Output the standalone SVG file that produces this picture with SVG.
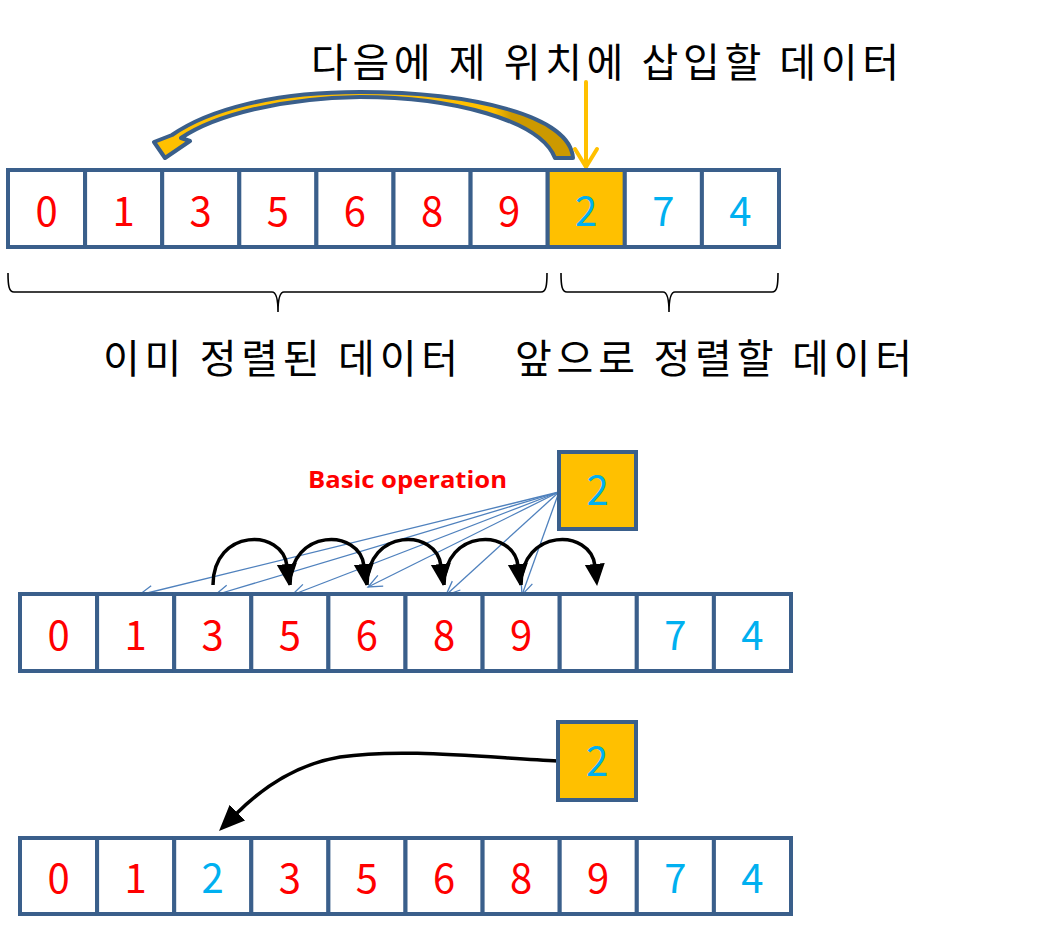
<svg xmlns="http://www.w3.org/2000/svg" width="1040" height="935" viewBox="0 0 1040 935">
<style>
.cell{fill:#FFFFFF;stroke:#3A5F8B;stroke-width:4}
.hl{fill:#FFC000;stroke:#3A5F8B;stroke-width:4}
.d{font-family:"Noto Sans CJK KR","Noto Sans",sans-serif;font-size:40px;text-anchor:middle}
.r{fill:#FF0000}
.b{fill:#00B0F0}
.k{font-family:"Noto Sans CJK KR","Noto Sans",sans-serif;font-size:40px;fill:#000000}
.brace{fill:none;stroke:#000000;stroke-width:1.6}
.thin{fill:none;stroke:#4F81BD;stroke-width:1.3;marker-end:url(#openv)}
.hop{fill:none;stroke:#000000;stroke-width:3.5;marker-end:url(#solid)}
</style>
<defs>
<marker id="openv" markerUnits="userSpaceOnUse" markerWidth="18" markerHeight="16" refX="15" refY="7" orient="auto" viewBox="0 0 18 14">
<path d="M1,1 L15,7 L1,13" fill="none" stroke="#4F81BD" stroke-width="1.3"/>
</marker>
<marker id="solid" markerUnits="userSpaceOnUse" markerWidth="24" markerHeight="22" refX="2" refY="10" orient="auto" viewBox="0 0 24 20">
<path d="M0,0 L22,10 L0,20 Z" fill="#000000"/>
</marker>
<marker id="solid2" markerUnits="userSpaceOnUse" markerWidth="28" markerHeight="24" refX="2" refY="11" orient="auto" viewBox="0 0 28 22">
<path d="M0,0 L26,11 L0,22 Z" fill="#000000"/>
</marker>
<linearGradient id="arcfill" gradientUnits="userSpaceOnUse" x1="150" y1="0" x2="580" y2="0">
<stop offset="0" stop-color="#FFC000"/>
<stop offset="0.8" stop-color="#FFC000"/>
<stop offset="0.84" stop-color="#CC9900"/>
<stop offset="1" stop-color="#CC9900"/>
</linearGradient>
</defs>

<g id="title"><text class="k" x="311" y="77" textLength="588" lengthAdjust="spacing">다음에 제 위치에 삽입할 데이터</text></g>

<g id="connectors">
<path id="bigarc" d="M573,158 C570,115 470,92 360,92 C272,92 208,110 172,135 L154,142 L165,158 L190,141 L181,138 C215,115 282,98 360,97 C452,97 540,120 555,158 Z" fill="url(#arcfill)" stroke="#3A5F8B" stroke-width="4" stroke-linejoin="round"/>
<g id="downarrow" stroke="#FFC000" stroke-width="4" fill="none" stroke-linecap="round">
<line x1="586" y1="82" x2="586" y2="166"/>
<polyline points="575,149 586,167 597,149"/>
</g>
<path class="thin" d="M559,492 L139,595"/>
<path class="thin" d="M559,492 L215,595"/>
<path class="thin" d="M559,492 L292,595"/>
<path class="thin" d="M559,492 L368,587"/>
<path class="thin" d="M559,492 L446,595"/>
<path class="thin" d="M559,492 L522,595"/>
<path class="hop" d="M213,585 C213,528 283,528 287,566"/>
<path class="hop" d="M290,585 C290,528 360,528 364,566"/>
<path class="hop" d="M367,585 C367,528 437,528 441,566"/>
<path class="hop" d="M444,585 C444,528 514,528 518,566"/>
<path class="hop" d="M521,585 C521,528 591,528 595,566"/>
<path d="M558,761 C480,757 400,748 340,757 C292,765 258,792 236,814" fill="none" stroke="#000000" stroke-width="3.5" marker-end="url(#solid2)"/>
</g>

<g id="braces">
<path class="brace" d="M8,273 C8,286 9,292 14,292 L272,292 C276,292 278,298 278,312 C278,298 280,292 284,292 L541,292 C546,292 547,286 547,273"/>
<path class="brace" d="M561,273 C561,286 562,292 567,292 L663,292 C667,292 669,298 669,312 C669,298 671,292 675,292 L772,292 C777,292 778,286 778,273"/>
</g>
<g id="label-sorted"><text class="k" x="103" y="373" textLength="355" lengthAdjust="spacing">이미 정렬된 데이터</text></g>
<g id="label-unsorted"><text class="k" x="515" y="373" textLength="397" lengthAdjust="spacing">앞으로 정렬할 데이터</text></g>

<!-- top row -->
<g id="t0"><rect class="cell" x="8" y="170" width="77.1" height="77"/><text class="d r" x="46.5" y="226">0</text></g>
<g id="t1"><rect class="cell" x="85.1" y="170" width="77.1" height="77"/><text class="d r" x="123.6" y="226">1</text></g>
<g id="t2"><rect class="cell" x="162.2" y="170" width="77.1" height="77"/><text class="d r" x="200.7" y="226">3</text></g>
<g id="t3"><rect class="cell" x="239.3" y="170" width="77.1" height="77"/><text class="d r" x="277.8" y="226">5</text></g>
<g id="t4"><rect class="cell" x="316.4" y="170" width="77.1" height="77"/><text class="d r" x="354.9" y="226">6</text></g>
<g id="t5"><rect class="cell" x="393.5" y="170" width="77.1" height="77"/><text class="d r" x="432" y="226">8</text></g>
<g id="t6"><rect class="cell" x="470.6" y="170" width="77.1" height="77"/><text class="d r" x="509.1" y="226">9</text></g>
<g id="t7"><rect class="hl" x="547.7" y="170" width="77.1" height="77"/><text class="d b" x="586.2" y="226">2</text></g>
<g id="t8"><rect class="cell" x="624.8" y="170" width="77.1" height="77"/><text class="d b" x="663.3" y="226">7</text></g>
<g id="t9"><rect class="cell" x="701.9" y="170" width="77.1" height="77"/><text class="d b" x="740.4" y="226">4</text></g>

<!-- middle -->
<g id="basic-op"><text x="308" y="488" font-family="'Open Sans','Noto Sans',sans-serif" font-size="24" font-weight="bold" fill="#FF0000" textLength="199" lengthAdjust="spacingAndGlyphs">Basic operation</text></g>
<g id="m-key"><rect class="hl" x="559" y="452" width="77" height="77"/><text class="d b" x="597.5" y="505">2</text></g>
<g id="m0"><rect class="cell" x="20" y="594" width="77.1" height="77"/><text class="d r" x="58.5" y="650">0</text></g>
<g id="m1"><rect class="cell" x="97.1" y="594" width="77.1" height="77"/><text class="d r" x="135.6" y="650">1</text></g>
<g id="m2"><rect class="cell" x="174.2" y="594" width="77.1" height="77"/><text class="d r" x="212.7" y="650">3</text></g>
<g id="m3"><rect class="cell" x="251.3" y="594" width="77.1" height="77"/><text class="d r" x="289.8" y="650">5</text></g>
<g id="m4"><rect class="cell" x="328.4" y="594" width="77.1" height="77"/><text class="d r" x="366.9" y="650">6</text></g>
<g id="m5"><rect class="cell" x="405.5" y="594" width="77.1" height="77"/><text class="d r" x="444" y="650">8</text></g>
<g id="m6"><rect class="cell" x="482.6" y="594" width="77.1" height="77"/><text class="d r" x="521.1" y="650">9</text></g>
<g id="m7"><rect class="cell" x="559.7" y="594" width="77.1" height="77"/></g>
<g id="m8"><rect class="cell" x="636.8" y="594" width="77.1" height="77"/><text class="d b" x="675.3" y="650">7</text></g>
<g id="m9"><rect class="cell" x="713.9" y="594" width="77.1" height="77"/><text class="d b" x="752.4" y="650">4</text></g>

<!-- bottom -->
<g id="b-key"><rect class="hl" x="558" y="722" width="78" height="78"/><text class="d b" x="597" y="776">2</text></g>
<g id="b0"><rect class="cell" x="20" y="838" width="77.1" height="76"/><text class="d r" x="58.5" y="893">0</text></g>
<g id="b1"><rect class="cell" x="97.1" y="838" width="77.1" height="76"/><text class="d r" x="135.6" y="893">1</text></g>
<g id="b2"><rect class="cell" x="174.2" y="838" width="77.1" height="76"/><text class="d b" x="212.7" y="893">2</text></g>
<g id="b3"><rect class="cell" x="251.3" y="838" width="77.1" height="76"/><text class="d r" x="289.8" y="893">3</text></g>
<g id="b4"><rect class="cell" x="328.4" y="838" width="77.1" height="76"/><text class="d r" x="366.9" y="893">5</text></g>
<g id="b5"><rect class="cell" x="405.5" y="838" width="77.1" height="76"/><text class="d r" x="444" y="893">6</text></g>
<g id="b6"><rect class="cell" x="482.6" y="838" width="77.1" height="76"/><text class="d r" x="521.1" y="893">8</text></g>
<g id="b7"><rect class="cell" x="559.7" y="838" width="77.1" height="76"/><text class="d r" x="598.2" y="893">9</text></g>
<g id="b8"><rect class="cell" x="636.8" y="838" width="77.1" height="76"/><text class="d b" x="675.3" y="893">7</text></g>
<g id="b9"><rect class="cell" x="713.9" y="838" width="77.1" height="76"/><text class="d b" x="752.4" y="893">4</text></g>
</svg>
